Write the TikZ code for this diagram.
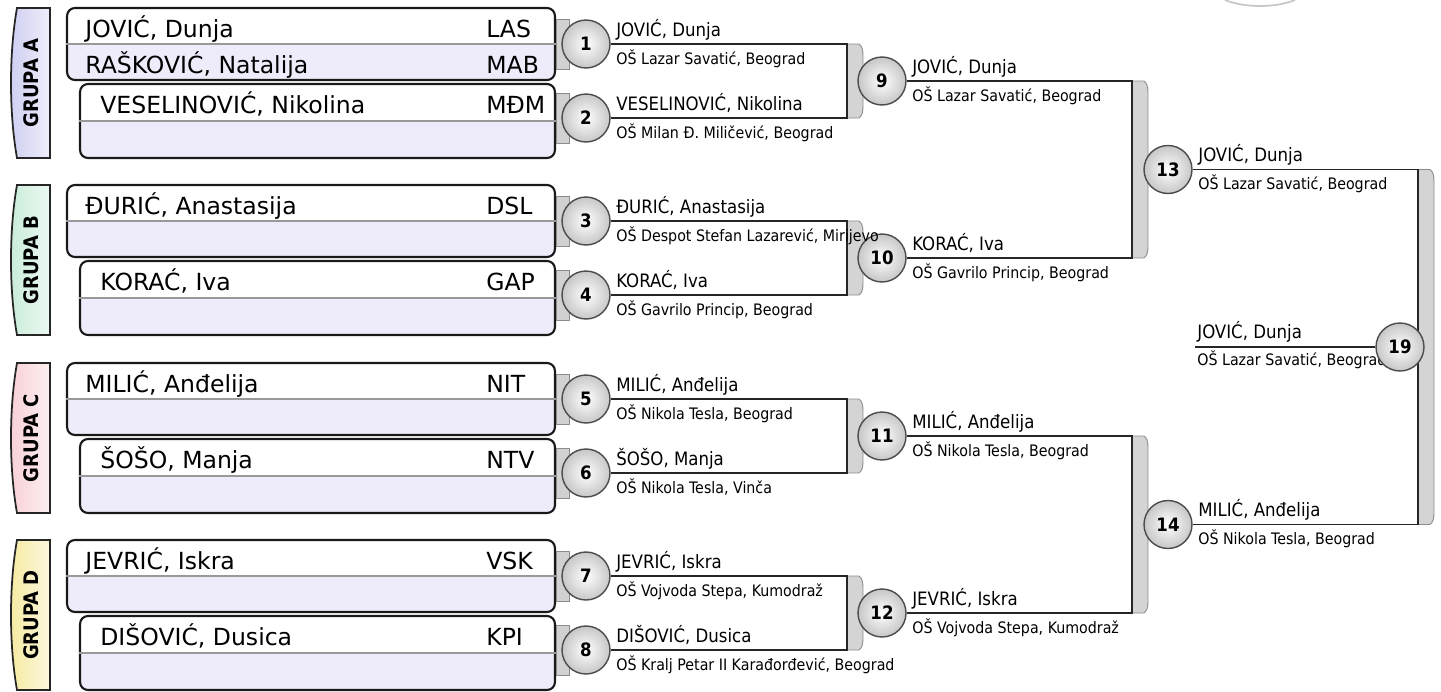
\documentclass[tikz,border=0pt]{standalone}
\usepackage{fontspec}
\setmainfont{DejaVu Sans}
\newfontfamily\condfont[BoldFont={DejaVu Sans Condensed Bold}]{DejaVu Sans Condensed}
\usepackage{tikz}
\usetikzlibrary{backgrounds}
\definecolor{rowlav}{RGB}{238,236,250}
\definecolor{grpa}{RGB}{206,206,242}
\definecolor{grpb}{RGB}{200,236,216}
\definecolor{grpc}{RGB}{248,208,214}
\definecolor{grpd}{RGB}{246,234,160}
\pgfdeclareverticalshading{rowsplit}{100bp}{color(0bp)=(rowlav); color(49.9bp)=(rowlav); color(50.1bp)=(white); color(100bp)=(white)}
% grey band behind a bracket: x, top y, bottom y
\newcommand{\bracketband}[3]{%
  \filldraw[bandfill] (#1,#2) -- (#1+12,#2) .. controls (#1+15,#2+2) and (#1+16,#2+6) .. (#1+16,#2+12)
    -- (#1+16,#3-12) .. controls (#1+16,#3-6) and (#1+15,#3-2) .. (#1+12,#3) -- (#1,#3) -- cycle;}

\begin{document}
\begin{tikzpicture}[x=0.02cm, y=-0.02cm,
    seedbox/.style={draw=black!90, line width=1.2pt, rounded corners=4.5pt,
        shading=rowsplit, inner sep=0pt},
    divline/.style={draw=black!40, line width=0.6pt},
    seedname/.style={anchor=base west, inner sep=0pt, font=\fontsize{13.4}{16}\selectfont},
    grplabel/.style={rotate=90, font=\condfont\bfseries\fontsize{11.4}{13}\selectfont},
    grpshape/.style={draw=black!85, line width=1pt},
    seedtab/.style={draw=black!45, fill=black!18, minimum width=0.26cm,
        minimum height=1cm, inner sep=0pt},
    matchball/.style={circle, draw=black!70, line width=0.8pt, inner color=white,
        outer color=black!22, minimum size=0.96cm, inner sep=0pt,
        font=\condfont\bfseries\fontsize{10.5}{12}\selectfont},
    conn/.style={draw=black!85, line width=1.1pt},
    bandfill/.style={draw=black!45, fill=black!17, line width=0.5pt},
    wname/.style={anchor=base west, inner sep=0pt, font=\condfont\fontsize{10.5}{12}\selectfont},
    wschool/.style={anchor=base west, inner sep=0pt, font=\condfont\fontsize{9}{11}\selectfont}
]
    \useasboundingbox (0,0) rectangle (1441,691);

    % groups
    \path[grpshape, left color=grpa, right color=grpa!35!white] (50,8) -- (17,8) .. controls (9,53) and (9,113) .. (17,158) -- (50,158) -- cycle;
    \node[grplabel] (gA) at (31,83) {GRUPA A};
    \path[grpshape, left color=grpb, right color=grpb!35!white] (50,185) -- (17,185) .. controls (9,230) and (9,290) .. (17,335) -- (50,335) -- cycle;
    \node[grplabel] (gB) at (31,260) {GRUPA B};
    \path[grpshape, left color=grpc, right color=grpc!35!white] (50,363) -- (17,363) .. controls (9,408) and (9,468) .. (17,513) -- (50,513) -- cycle;
    \node[grplabel] (gC) at (31,438) {GRUPA C};
    \path[grpshape, left color=grpd, right color=grpd!35!white] (50,540) -- (17,540) .. controls (9,585) and (9,645) .. (17,690) -- (50,690) -- cycle;
    \node[grplabel] (gD) at (31,615) {GRUPA D};

    % seeded players
    \node[seedbox, minimum width=9.76cm, minimum height=1.44cm] (s1) at (311,44) {};
    \draw[divline] (s1.west) -- (s1.east);
    \node[seedname] (p1) at (85,37) {JOVIĆ, Dunja};
    \node[seedname] (c1) at (486,37) {LAS};
    \node[seedname] (p2) at (85,73) {RAŠKOVIĆ, Natalija};
    \node[seedname] (c2) at (486,73) {MAB};
    \node[seedbox, minimum width=9.5cm, minimum height=1.48cm] (s2) at (317.5,121) {};
    \draw[divline] (s2.west) -- (s2.east);
    \node[seedname] (p3) at (100,113) {VESELINOVIĆ, Nikolina};
    \node[seedname] (c3) at (486,113) {MĐM};

    \node[seedbox, minimum width=9.76cm, minimum height=1.44cm] (s3) at (311,221) {};
    \draw[divline] (s3.west) -- (s3.east);
    \node[seedname] (p4) at (85,214) {ĐURIĆ, Anastasija};
    \node[seedname] (c4) at (486,214) {DSL};
    \node[seedbox, minimum width=9.5cm, minimum height=1.48cm] (s4) at (317.5,298) {};
    \draw[divline] (s4.west) -- (s4.east);
    \node[seedname] (p5) at (100,290) {KORAĆ, Iva};
    \node[seedname] (c5) at (486,290) {GAP};

    \node[seedbox, minimum width=9.76cm, minimum height=1.44cm] (s5) at (311,399) {};
    \draw[divline] (s5.west) -- (s5.east);
    \node[seedname] (p6) at (85,392) {MILIĆ, Anđelija};
    \node[seedname] (c6) at (486,392) {NIT};
    \node[seedbox, minimum width=9.5cm, minimum height=1.48cm] (s6) at (317.5,476) {};
    \draw[divline] (s6.west) -- (s6.east);
    \node[seedname] (p7) at (100,468) {ŠOŠO, Manja};
    \node[seedname] (c7) at (486,468) {NTV};

    \node[seedbox, minimum width=9.76cm, minimum height=1.44cm] (s7) at (311,576) {};
    \draw[divline] (s7.west) -- (s7.east);
    \node[seedname] (p8) at (85,569) {JEVRIĆ, Iskra};
    \node[seedname] (c8) at (486,569) {VSK};
    \node[seedbox, minimum width=9.5cm, minimum height=1.48cm] (s8) at (317.5,653) {};
    \draw[divline] (s8.west) -- (s8.east);
    \node[seedname] (p9) at (100,645) {DIŠOVIĆ, Dusica};
    \node[seedname] (c9) at (486,645) {KPI};

    % first round
    \node[seedtab] (t1) at (562.5,44) {};
    \node[seedtab] (t2) at (562.5,118) {};
    \node[seedtab] (t3) at (562.5,221) {};
    \node[seedtab] (t4) at (562.5,295) {};
    \node[seedtab] (t5) at (562.5,399) {};
    \node[seedtab] (t6) at (562.5,473) {};
    \node[seedtab] (t7) at (562.5,576) {};
    \node[seedtab] (t8) at (562.5,650) {};
    \node[matchball] (m1) at (586,44) {1};
    \node[matchball] (m2) at (586,118) {2};
    \node[matchball] (m3) at (586,221) {3};
    \node[matchball] (m4) at (586,295) {4};
    \node[matchball] (m5) at (586,399) {5};
    \node[matchball] (m6) at (586,473) {6};
    \node[matchball] (m7) at (586,576) {7};
    \node[matchball] (m8) at (586,650) {8};

    \node[matchball] (m9) at (882,81) {9};
    \node[matchball] (m10) at (882,258) {10};
    \node[matchball] (m11) at (882,436) {11};
    \node[matchball] (m12) at (882,613) {12};

    \node[matchball] (m13) at (1168,169.5) {13};
    \node[matchball] (m14) at (1168,524.5) {14};

    \coordinate (b12) at (847,81);
    \coordinate (b34) at (847,258);
    \coordinate (b56) at (847,436);
    \coordinate (b78) at (847,613);
    \coordinate (b9) at (1132,169.5);
    \coordinate (b11) at (1132,524.5);
    \coordinate (b13) at (1418,347);
    \coordinate (f19) at (1195,347);

    % winners
    \node[wname] (w1) at (616,36) {JOVIĆ, Dunja};
    \node[wschool] (o1) at (616,64) {OŠ Lazar Savatić, Beograd};
    \node[wname] (w2) at (616,110) {VESELINOVIĆ, Nikolina};
    \node[wschool] (o2) at (616,138) {OŠ Milan Đ. Miličević, Beograd};
    \node[wname] (w3) at (616,213) {ĐURIĆ, Anastasija};
    \node[wschool] (o3) at (616,241) {OŠ Despot Stefan Lazarević, Mirijevo};
    \node[wname] (w4) at (616,287) {KORAĆ, Iva};
    \node[wschool] (o4) at (616,315) {OŠ Gavrilo Princip, Beograd};
    \node[wname] (w5) at (616,391) {MILIĆ, Anđelija};
    \node[wschool] (o5) at (616,419) {OŠ Nikola Tesla, Beograd};
    \node[wname] (w6) at (616,465) {ŠOŠO, Manja};
    \node[wschool] (o6) at (616,493) {OŠ Nikola Tesla, Vinča};
    \node[wname] (w7) at (616,568) {JEVRIĆ, Iskra};
    \node[wschool] (o7) at (616,596) {OŠ Vojvoda Stepa, Kumodraž};
    \node[wname] (w8) at (616,642) {DIŠOVIĆ, Dusica};
    \node[wschool] (o8) at (616,670) {OŠ Kralj Petar II Karađorđević, Beograd};

    \node[wname] (w9) at (912,73) {JOVIĆ, Dunja};
    \node[wschool] (o9) at (912,101) {OŠ Lazar Savatić, Beograd};
    \node[wname] (w10) at (912,250) {KORAĆ, Iva};
    \node[wschool] (o10) at (912,278) {OŠ Gavrilo Princip, Beograd};
    \node[wname] (w11) at (912,428) {MILIĆ, Anđelija};
    \node[wschool] (o11) at (912,456) {OŠ Nikola Tesla, Beograd};
    \node[wname] (w12) at (912,605) {JEVRIĆ, Iskra};
    \node[wschool] (o12) at (912,633) {OŠ Vojvoda Stepa, Kumodraž};

    \node[wname] (w13) at (1198,161.5) {JOVIĆ, Dunja};
    \node[wschool] (o13) at (1198,189.5) {OŠ Lazar Savatić, Beograd};
    \node[wname] (w14) at (1198,516.5) {MILIĆ, Anđelija};
    \node[wschool] (o14) at (1198,544.5) {OŠ Nikola Tesla, Beograd};

    \node[wname] (w19) at (1197,338) {JOVIĆ, Dunja};
    \node[wschool] (o19) at (1197,365) {OŠ Lazar Savatić, Beograd};
    \node[matchball] (m19) at (1400,347) {19};

    \draw[black!22, line width=1pt] (1225,0) .. controls (1245,8) and (1275,8) .. (1295,0);

    \begin{pgfonlayer}{background}
        \bracketband{847}{44}{118}
        \bracketband{847}{221}{295}
        \bracketband{847}{399}{473}
        \bracketband{847}{576}{650}
        \bracketband{1132}{81}{258}
        \bracketband{1132}{436}{613}
        \bracketband{1418}{169.5}{524.5}
        \draw[conn] (m1.east) -- (m1.east -| b12) |- (m2.east);
        \draw[conn] (m3.east) -- (m3.east -| b34) |- (m4.east);
        \draw[conn] (m5.east) -- (m5.east -| b56) |- (m6.east);
        \draw[conn] (m7.east) -- (m7.east -| b78) |- (m8.east);
        \draw[conn] (m9.east) -- (m9.east -| b9) |- (m10.east);
        \draw[conn] (m11.east) -- (m11.east -| b11) |- (m12.east);
        \draw[conn] (m13.east) -- (m13.east -| b13) |- (m14.east);
        \draw[conn] (f19) -- (m19.west);
    \end{pgfonlayer}
\end{tikzpicture}
\end{document}
